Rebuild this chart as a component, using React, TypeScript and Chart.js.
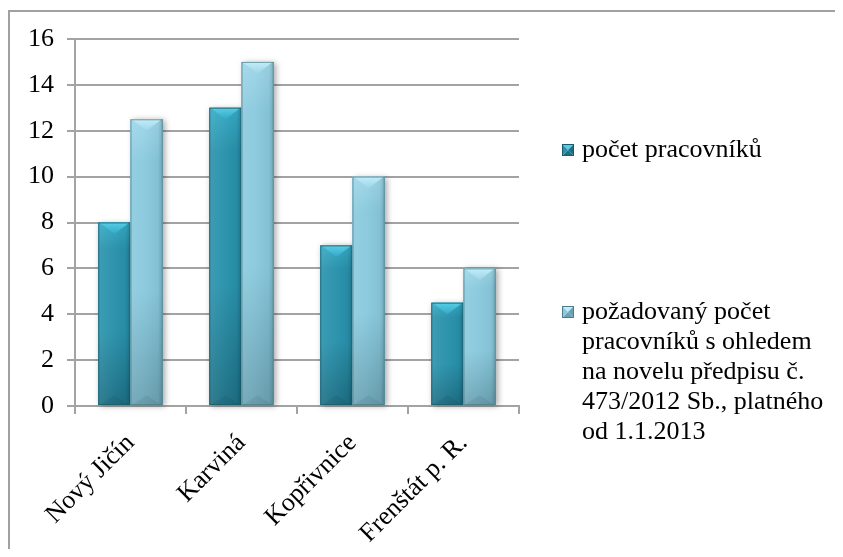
import React, { useEffect, useRef } from "react";
import { Chart, registerables } from "chart.js";

Chart.register(...registerables);

// ---- data ----
const categories = ["Nový Jičín", "Karviná", "Kopřivnice", "Frenštát p. R."];
const seriesNames = [
  "počet pracovníků",
  "požadovaný počet pracovníků s ohledem na novelu předpisu č. 473/2012 Sb., platného od 1.1.2013",
];
const legendLines = [
  ["počet pracovníků"],
  ["požadovaný počet", "pracovníků s ohledem", "na novelu předpisu č.", "473/2012 Sb., platného", "od 1.1.2013"],
];
const actualStaff = [8, 13, 7, 4.5];
const requiredStaff = [12.5, 15, 10, 6];
const yMin = 0;
const yMax = 16;
const yStep = 2;

const FONT = "'Liberation Serif', 'Times New Roman', serif";

const palettes = [
  { base: "#2891ab", light: "#35a9c4", dark: "#1c6f84", top: "#56cde6", edge: "#1b5a6a" },
  { base: "#89c9dd", light: "#9dd6e8", dark: "#6aa2b3", top: "#c3ecf8", edge: "#4d7d8a" },
];

const barStylePlugin = {
  id: "barStyle",
  afterDatasetsDraw(chart: any) {
    const ctx = chart.ctx as CanvasRenderingContext2D;
    chart.data.datasets.forEach((_ds: any, di: number) => {
      const meta = chart.getDatasetMeta(di);
      const p = palettes[di];
      meta.data.forEach((el: any) => {
        const { x, y, base, width } = el.getProps(["x", "y", "base", "width"], true);
        const l = x - width / 2;
        const r = x + width / 2;
        const t = y;
        const b = base;
        const h = b - t;
        ctx.save();
        ctx.shadowColor = "rgba(0,0,0,0.35)";
        ctx.shadowBlur = 6;
        ctx.shadowOffsetX = 2;
        ctx.shadowOffsetY = 1;
        ctx.fillStyle = p.base;
        ctx.fillRect(l, t, width, h);
        ctx.restore();
        ctx.save();
        const vg = ctx.createLinearGradient(0, t, 0, b);
        vg.addColorStop(0, p.light);
        vg.addColorStop(0.15, p.base);
        vg.addColorStop(0.6, p.base);
        vg.addColorStop(1, p.dark);
        ctx.fillStyle = vg;
        ctx.fillRect(l, t, width, h);
        const hg = ctx.createLinearGradient(l, 0, r, 0);
        hg.addColorStop(0, "rgba(255,255,255,0.10)");
        hg.addColorStop(0.4, "rgba(255,255,255,0.04)");
        hg.addColorStop(0.85, "rgba(0,0,0,0.04)");
        hg.addColorStop(1, "rgba(0,0,0,0.18)");
        ctx.fillStyle = hg;
        ctx.fillRect(l, t, width, h);
        const d = Math.min(width * 0.36, h);
        const tg = ctx.createLinearGradient(0, t, 0, t + d);
        tg.addColorStop(0, p.top);
        tg.addColorStop(1, p.light);
        ctx.beginPath();
        ctx.moveTo(l + 1, t);
        ctx.lineTo(r - 1, t);
        ctx.lineTo(x, t + d);
        ctx.closePath();
        ctx.fillStyle = tg;
        ctx.fill();
        const bd = Math.min(width * 0.3, h / 2);
        ctx.beginPath();
        ctx.moveTo(l + 1, b);
        ctx.lineTo(r - 1, b);
        ctx.lineTo(x, b - bd);
        ctx.closePath();
        ctx.fillStyle = "rgba(0,0,0,0.06)";
        ctx.fill();
        ctx.strokeStyle = p.edge;
        ctx.globalAlpha = 0.7;
        ctx.lineWidth = 1;
        ctx.strokeRect(l + 0.5, t + 0.5, width - 1, h - 1);
        ctx.restore();
      });
    });
  },
};

const legendPlugin = {
  id: "customLegend",
  afterDraw(chart: any) {
    const ctx = chart.ctx as CanvasRenderingContext2D;
    const boxX = 554;
    const textX = 574;
    const starts = [142, 304];
    const lineH = 30;
    ctx.save();
    ctx.font = `26px ${FONT}`;
    ctx.fillStyle = "#000";
    ctx.textBaseline = "middle";
    ctx.textAlign = "left";
    legendLines.forEach((lines, i) => {
      const p = palettes[i];
      const cy = starts[i];
      const s = 12;
      const bx = boxX;
      const by = cy - s / 2;
      const cx = bx + s / 2;
      const cyy = by + s / 2;
      const tri = (ax: number, ay: number, bx2: number, by2: number, col: string) => {
        ctx.beginPath();
        ctx.moveTo(ax, ay);
        ctx.lineTo(bx2, by2);
        ctx.lineTo(cx, cyy);
        ctx.closePath();
        ctx.fillStyle = col;
        ctx.fill();
      };
      tri(bx, by, bx + s, by, p.top);
      tri(bx + s, by, bx + s, by + s, p.dark);
      tri(bx, by + s, bx + s, by + s, p.dark);
      tri(bx, by, bx, by + s, p.base);
      ctx.strokeStyle = p.edge;
      ctx.lineWidth = 1;
      ctx.strokeRect(bx + 0.5, by + 0.5, s - 1, s - 1);
      ctx.fillStyle = "#000";
      lines.forEach((ln, j) => {
        ctx.fillText(ln, textX, cy + j * lineH);
      });
    });
    ctx.restore();
  },
};

export default function App() {
  const ref = useRef<HTMLCanvasElement | null>(null);
  useEffect(() => {
    document.documentElement.style.overflow = "hidden";
    document.body.style.overflow = "hidden";
    const canvas = ref.current;
    if (!canvas) return;
    const gridColor = "#a3a3a3";
    const chart = new Chart(canvas, {
      type: "bar",
      data: {
        labels: categories,
        datasets: [
          { label: seriesNames[0], data: actualStaff, backgroundColor: palettes[0].base, borderWidth: 0 },
          { label: seriesNames[1], data: requiredStaff, backgroundColor: palettes[1].base, borderWidth: 0 },
        ],
      },
      options: {
        responsive: false,
        animation: false,
        devicePixelRatio: 1,
        layout: { padding: { left: 0, top: 31, right: 324, bottom: 0 } },
        datasets: { bar: { barPercentage: 1, categoryPercentage: 0.58 } },
        plugins: { legend: { display: false }, tooltip: { enabled: false }, title: { display: false } },
        scales: {
          x: {
            offset: true,
            grid: {
              display: true,
              offset: true,
              drawOnChartArea: false,
              drawTicks: true,
              tickLength: 8,
              color: gridColor,
              lineWidth: 2,
            },
            border: { display: true, color: gridColor, width: 2 },
            ticks: {
              font: { family: FONT, size: 26 },
              color: "#000",
              minRotation: 45,
              maxRotation: 45,
              padding: 14,
              labelOffset: 0,
              autoSkip: false,
            },
            afterFit(scale: any) {
              scale.height = 151;
            },
          },
          y: {
            min: yMin,
            max: yMax,
            grid: { color: gridColor, lineWidth: 2, drawTicks: true, tickLength: 8 },
            border: { display: true, color: gridColor, width: 2 },
            ticks: {
              stepSize: yStep,
              font: { family: FONT, size: 26 },
              color: "#000",
              padding: 13,
            },
            afterFit(scale: any) {
              scale.width = 67;
            },
          },
        },
      },
      plugins: [barStylePlugin, legendPlugin],
    });
    return () => chart.destroy();
  }, []);

  return (
    <div style={{ position: "relative", width: 827, height: 541 }}>
      <div style={{ position: "absolute", left: 0, top: 2, width: 835, height: 2, background: "#a0a0a0" }} />
      <div style={{ position: "absolute", left: 0, top: 2, width: 2, height: 547, background: "#a0a0a0" }} />
      <canvas ref={ref} width={835} height={549} style={{ position: "absolute", left: 0, top: 0 }} />
    </div>
  );
}
